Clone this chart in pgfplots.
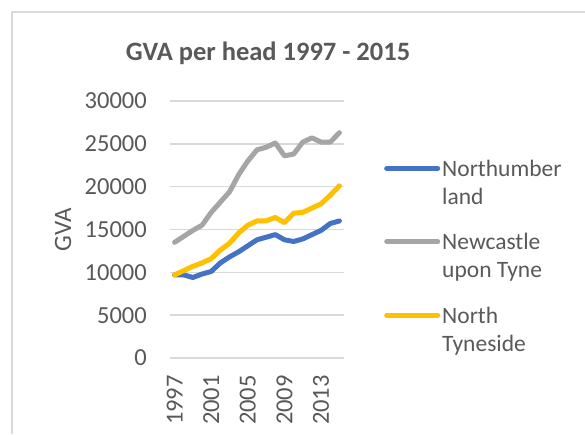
\documentclass[border=0pt]{standalone}
\usepackage{pgfplots}
\pgfplotsset{compat=1.18}
\usepackage{fontspec}
\setmainfont{Carlito}
\definecolor{txt}{HTML}{595959}
\definecolor{gridc}{HTML}{D9D9D9}
\definecolor{cblue}{HTML}{4472C4}
\definecolor{cgray}{HTML}{A5A5A5}
\definecolor{cyel}{HTML}{FFC000}
\begin{document}
\begin{tikzpicture}[x=1pt,y=1pt]
\path[use as bounding box] (0,0) rectangle (585,434);
\draw[gridc, line width=1.5pt] (12,0) -- (12,422) -- (585,422);
\node[anchor=base, text=txt, font=\fontsize{26.5}{30}\selectfont\bfseries, inner sep=0pt] at (268,373) {GVA per head 1997 - 2015};
\begin{axis}[
  at={(170pt,76pt)}, anchor=south west,
  scale only axis, width=174pt, height=257pt,
  xmin=1996.5, xmax=2015.5, ymin=0, ymax=30000,
  xtick={1997,2001,2005,2009,2013},
  ytick={0,5000,10000,15000,20000,25000,30000},
  scaled y ticks=false,
  /pgf/number format/1000 sep={},
  /pgf/number format/assume math mode=true,
  axis line style={draw=none},
  major tick style={draw=none},
  ymajorgrids, grid style={gridc, line width=1.5pt},
  font=\fontsize{24.5}{28}\selectfont,
  tick label style={text=txt, font=\fontsize{24.5}{28}\selectfont},
  yticklabel style={inner sep=0pt, xshift=-23pt},
  xticklabel style={rotate=90, anchor=east, inner sep=0pt, xshift=-17pt},
  ylabel={GVA}, ylabel style={text=txt, font=\fontsize{25}{28}\selectfont, at={(axis description cs:-0.615,0.5)}, rotate=0, anchor=center, inner sep=0pt},
  legend style={draw=none, fill=none, at={(1.2299,0.771)}, anchor=north west, inner sep=0pt, row sep=27.5pt, column sep=2pt,
    font=\fontsize{23.5}{28}\selectfont, text=txt, nodes={inner sep=0pt},
    cells={anchor=west, align=left}},
  legend image code/.code={\draw[#1, line cap=round] (2.5pt,14.5pt) -- (53.5pt,14.5pt);},
  every axis plot/.append style={line width=5pt, line join=round, line cap=round, mark=none},
]
\addplot[cblue] coordinates {(1997,9700)(1998,9700)(1999,9400)(2000,9800)(2001,10100)(2002,11100)(2003,11800)(2004,12400)(2005,13100)(2006,13800)(2007,14100)(2008,14400)(2009,13800)(2010,13600)(2011,13900)(2012,14400)(2013,14900)(2014,15700)(2015,16000)};
\addlegendentry{Northumber\\land}
\addplot[cgray] coordinates {(1997,13500)(1998,14200)(1999,14900)(2000,15500)(2001,17000)(2002,18200)(2003,19400)(2004,21400)(2005,23000)(2006,24300)(2007,24600)(2008,25100)(2009,23600)(2010,23800)(2011,25200)(2012,25700)(2013,25200)(2014,25200)(2015,26300)};
\addlegendentry{Newcastle\\upon Tyne}
\addplot[cyel] coordinates {(1997,9700)(1998,10200)(1999,10700)(2000,11100)(2001,11600)(2002,12600)(2003,13400)(2004,14600)(2005,15500)(2006,16000)(2007,16000)(2008,16400)(2009,15800)(2010,16900)(2011,17000)(2012,17500)(2013,18000)(2014,19000)(2015,20100)};
\addlegendentry{North\\Tyneside}
\end{axis}
\end{tikzpicture}
\end{document}
